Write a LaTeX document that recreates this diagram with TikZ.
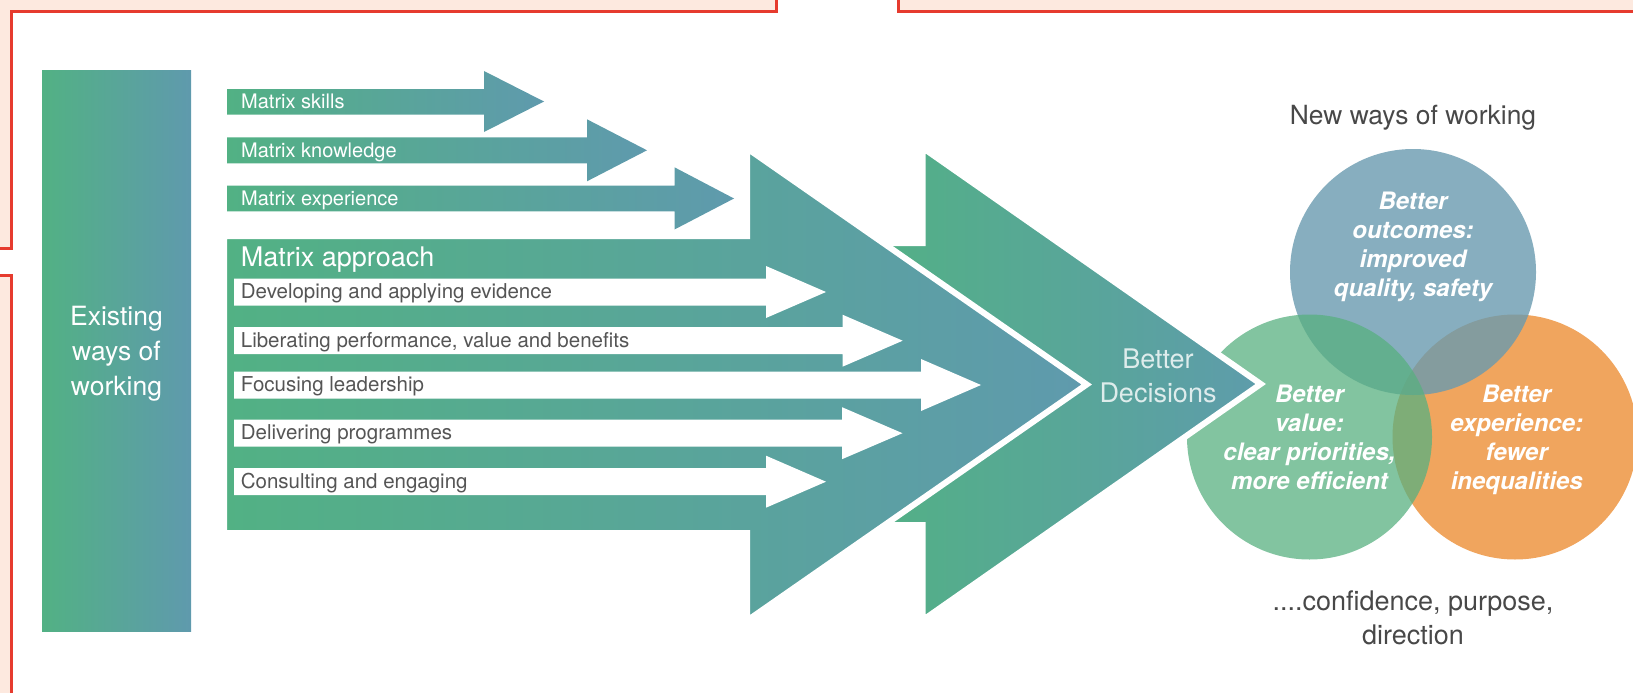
\documentclass[tikz,border=0pt]{standalone}
\usepackage{fontspec}
\setmainfont{TeX Gyre Heros}
\definecolor{mgreen}{HTML}{52B184}
\definecolor{mblue}{HTML}{5F9AAD}
\definecolor{mblue2}{HTML}{5E9CAB}
\definecolor{mred}{HTML}{E63B2E}
\definecolor{mpeach}{HTML}{FDE9DF}
\definecolor{mgrey}{HTML}{555555}
\definecolor{cblue}{RGB}{105,154,175}
\definecolor{cgreen}{RGB}{88,176,128}
\definecolor{corange}{HTML}{F0A55E}
\begin{document}
\begin{tikzpicture}[x=1pt,y=-1pt,
    panel/.style={fill=mpeach,draw=mred,line width=3pt},
    grad/.style={left color=mgreen,right color=mblue},
    bigarrow/.style={draw=white,line width=6pt},
    bartext/.style={anchor=base west,inner sep=0pt,text=mgrey,font=\fontsize{20.5}{24}\selectfont},
    smalltext/.style={anchor=base west,inner sep=0pt,text=white,font=\fontsize{20}{24}\selectfont},
    circtext/.style={anchor=north,inner sep=0pt,align=center,text=white,font=\fontsize{24}{29}\selectfont\bfseries\itshape}]
\useasboundingbox (0,0) rectangle (1633,693);
\clip (0,0) rectangle (1633,693);
\filldraw[panel] (-5,-5) -- (776,-5) -- (776,12) -- (11,12) -- (11,248) -- (-5,248) -- cycle;
\filldraw[panel] (-5,275) -- (11,275) -- (11,700) -- (-5,700) -- cycle;
\filldraw[panel] (898,-5) -- (1640,-5) -- (1640,12) -- (898,12) -- cycle;

\path[grad] (42,71) rectangle (191,631);
\node[anchor=north,inner sep=0pt,align=center,text=white,font=\fontsize{26.5}{35}\selectfont] (existing) at (116.5,306) {Existing\\ways of\\working};

\path[grad] (227,89) -- (484,89) -- (484,71) -- (544,101.5) -- (484,132) -- (484,114.5) -- (227,114.5) -- cycle;
\node[smalltext] (skills) at (241,108.7) {Matrix skills};
\path[grad] (227,137.3) -- (587,137.3) -- (587,119.3) -- (647,150.3) -- (587,181.3) -- (587,163.3) -- (227,163.3) -- cycle;
\node[smalltext] (knowledge) at (241,157.5) {Matrix knowledge};
\path[grad] (227,185.7) -- (674.5,185.7) -- (674.5,167.3) -- (734,198.5) -- (674.5,229.5) -- (674.5,211.3) -- (227,211.3) -- cycle;
\node[smalltext] (experience) at (241,205.7) {Matrix experience};

\fill[corange] (1515,437) circle (122.5pt);
\fill[cblue,fill opacity=0.8] (1413,272) circle (123pt);
\fill[cgreen,fill opacity=0.75] (1309.5,437) circle (122.5pt);
\node[circtext] (outcomes) at (1413,191.7) {Better\\outcomes:\\improved\\quality, safety};
\node[circtext] (value) at (1309.5,384.4) {Better\\value:\\clear priorities,\\more efficient};
\node[circtext] (experbetter) at (1516.7,384.4) {Better\\experience:\\fewer\\inequalities};

\path[bigarrow,left color=mgreen,right color=mblue2] (860,243) -- (922.7,243) -- (922.7,147.8) -- (1260.7,384) -- (922.7,620.2) -- (922.7,525) -- (860,525) -- cycle;
\node[anchor=north,inner sep=0pt,align=center,text=white,text opacity=0.8,font=\fontsize{27}{34}\selectfont] (decisions) at (1158,348.3) {Better\\Decisions};

\path[bigarrow,grad] (224,236) -- (747,236) -- (747,148.3) -- (1086.7,384.5) -- (747,620.7) -- (747,533) -- (224,533) -- cycle;
\node[anchor=base west,inner sep=0pt,text=white,font=\fontsize{27}{32}\selectfont] (approach) at (240.7,266.7) {Matrix approach};

\fill[white] (234,278.5) -- (766,278.5) -- (766,266) -- (826,292) -- (766,318) -- (766,305.5) -- (234,305.5) -- cycle;
\node[bartext] (evidence) at (240.7,298.6) {Developing and applying evidence};
\fill[white] (234,327.2) -- (842.5,327.2) -- (842.5,314.7) -- (902.7,340.7) -- (842.5,366.7) -- (842.5,354.2) -- (234,354.2) -- cycle;
\node[bartext] (liberating) at (240.7,347.3) {Liberating performance, value and benefits};
\fill[white] (234,371.5) -- (921,371.5) -- (921,359) -- (981,385) -- (921,411) -- (921,398.5) -- (234,398.5) -- cycle;
\node[bartext] (leadership) at (240.7,391.6) {Focusing leadership};
\fill[white] (234,419.7) -- (842,419.7) -- (842,407.2) -- (902.5,433.2) -- (842,459.2) -- (842,446.7) -- (234,446.7) -- cycle;
\node[bartext] (programmes) at (240.7,439.8) {Delivering programmes};
\fill[white] (234,468.2) -- (766,468.2) -- (766,455.7) -- (826,481.7) -- (766,507.7) -- (766,495.2) -- (234,495.2) -- cycle;
\node[bartext] (engaging) at (240.7,488.3) {Consulting and engaging};

\node[anchor=base,inner sep=0pt,text=mgrey!85!black,font=\fontsize{26.4}{32}\selectfont] (newways) at (1413,124) {New ways of working};
\node[anchor=north,inner sep=0pt,align=center,text=mgrey!85!black,font=\fontsize{27}{34.3}\selectfont] (confidence) at (1413,590.3) {....confidence, purpose,\\direction};
\end{tikzpicture}
\end{document}
